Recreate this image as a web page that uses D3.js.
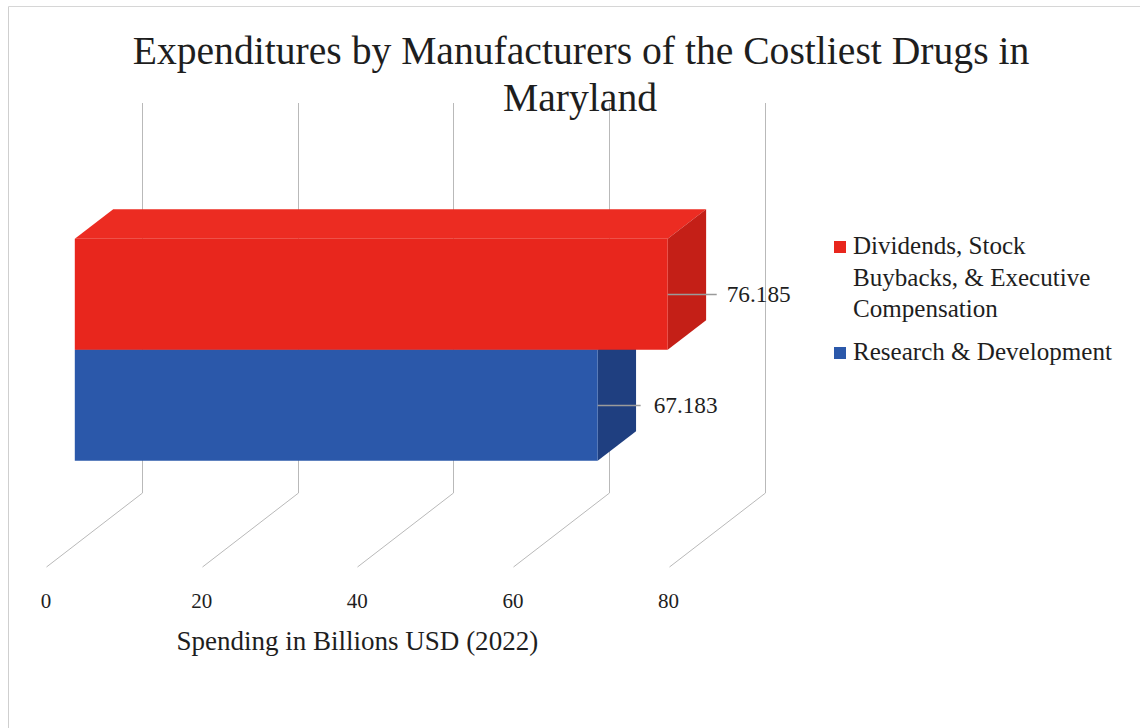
<!DOCTYPE html>
<html>
<head>
<meta charset="utf-8">
<script src="https://cdn.jsdelivr.net/npm/d3@7/dist/d3.min.js"></script>
<style>
  html, body { margin: 0; padding: 0; background: #fff; }
  svg text { font-family: "Liberation Serif", "DejaVu Serif", serif; fill: #1e1e1e; }
</style>
</head>
<body>
<svg id="chart" width="1140" height="728"></svg>
<script>
// ---- data ----
const categories = ["Maryland"];
const seriesNames = ["Dividends, Stock Buybacks, & Executive Compensation", "Research & Development"];
const seriesValues = [76.185, 67.183];
const legendLines = [["Dividends, Stock", "Buybacks, & Executive", "Compensation"], ["Research & Development"]];
const tickValues = [0, 20, 40, 60, 80];
const titleLines = ["Expenditures by Manufacturers of the Costliest Drugs in", "Maryland"];
const axisTitle = "Spending in Billions USD (2022)";

// ---- styles ----
const faceColors = [
  { front: "#e8261d", top: "#ec2c22", side: "#c41f17" },
  { front: "#2b58aa", top: "#3060b0", side: "#1f3f80" }
];
const legendColors = ["#e8261d", "#2b58aa"];
const gridColor = "#b9b9b9";

const svg = d3.select("#chart");

// fit font size so text spans target width
function fit(sel, target) {
  sel.style("font-size", "100px");
  const w = sel.node().getComputedTextLength();
  sel.style("font-size", (100 * target / w) + "px");
  return 100 * target / w;
}

// page border (scanned look)
svg.append("line").attr("x1", 8.5).attr("x2", 8.5).attr("y1", 6.5).attr("y2", 728).attr("stroke", "#cfcfcf");
svg.append("line").attr("x1", 8.5).attr("x2", 1140).attr("y1", 6.5).attr("y2", 6.5).attr("stroke", "#d6d6d6");

// ---- 3D geometry ----
const wallTop = 103, wallBottom = 493;
const depthDX = -96, depthDY = 74;          // offset from back wall to front of floor
const barDepth = [0.30, 0.70];              // bar occupies this depth fraction

const x = d3.scaleLinear().domain([0, 80]).range([142, 764.6]);
const yCat = d3.scaleBand().domain(categories).range([wallTop, wallBottom]).paddingInner(0).paddingOuter(0.378);
const ySer = d3.scaleBand().domain(seriesNames).range([0, yCat.bandwidth()]);

const P = (xb, yb, d) => [xb + depthDX * d, yb + depthDY * d];

// back wall gridlines + floor lines
const grid = svg.append("g");
tickValues.forEach(v => {
  const xb = Math.round(x(v)) + 0.5;
  grid.append("line").attr("x1", xb).attr("x2", xb).attr("y1", wallTop).attr("y2", wallBottom)
    .attr("stroke", gridColor).attr("stroke-width", 1);
  const f = P(xb, wallBottom, 1);
  grid.append("line").attr("x1", xb).attr("y1", wallBottom).attr("x2", f[0]).attr("y2", f[1])
    .attr("stroke", gridColor).attr("stroke-width", 1);
});

// tick labels on the front edge
tickValues.forEach(v => {
  const f = P(x(v), wallBottom, 1);
  svg.append("text").attr("x", f[0]).attr("y", 608).attr("text-anchor", "middle")
    .style("font-size", "21px").text(d3.format("d")(v));
});

// axis title
const atx = P(x(40), wallBottom, 1)[0];
const at = svg.append("text").attr("x", atx).attr("y", 650).attr("text-anchor", "middle").text(axisTitle);
fit(at, 362);

// ---- bars (draw bottom series first so upper bar overlaps) ----
const bars = seriesNames.map((s, i) => ({ name: s, value: seriesValues[i], i }));
const order = bars.slice().reverse();
const poly = pts => "M" + pts.map(p => p.join(",")).join("L") + "Z";
const d0 = barDepth[0], d1 = barDepth[1];

order.forEach(b => {
  const y0 = yCat(categories[0]) + ySer(b.name);
  const y1 = y0 + ySer.bandwidth();
  const xa = x(0), xv = x(b.value);
  const c = faceColors[b.i];
  const g = svg.append("g");
  // top face
  g.append("path").attr("d", poly([P(xa, y0, d1), P(xa, y0, d0), P(xv, y0, d0), P(xv, y0, d1)])).attr("fill", c.top);
  // right side face
  g.append("path").attr("d", poly([P(xv, y0, d1), P(xv, y0, d0), P(xv, y1, d0), P(xv, y1, d1)])).attr("fill", c.side);
  // front face
  g.append("path").attr("d", poly([P(xa, y0, d1), P(xv, y0, d1), P(xv, y1, d1), P(xa, y1, d1)])).attr("fill", c.front);
});

// data labels with leader lines
bars.forEach(b => {
  const y0 = yCat(categories[0]) + ySer(b.name);
  const yc = y0 + ySer.bandwidth() / 2;
  const p = P(x(b.value), yc, d1);
  const len = b.i === 0 ? 49 : 43;
  svg.append("line").attr("x1", p[0]).attr("x2", p[0] + len).attr("y1", Math.round(p[1]) + 0.5).attr("y2", Math.round(p[1]) + 0.5)
    .attr("stroke", "#9a9a9a").attr("stroke-width", 1.5);
  const t = svg.append("text").attr("x", p[0] + len + (b.i === 0 ? 10 : 13)).attr("y", p[1] + 8).text(d3.format(".3f")(b.value));
  fit(t, 64);
});

// ---- title ----
const t1 = svg.append("text").attr("x", 581).attr("y", 64).attr("text-anchor", "middle").text(titleLines[0]);
const ts = fit(t1, 897);
svg.append("text").attr("x", 580).attr("y", 111).attr("text-anchor", "middle").style("font-size", ts + "px").text(titleLines[1]);

// ---- legend ----
const lg = svg.append("g");
const l0 = lg.append("text").attr("x", 853).attr("y", 360).text(legendLines[1][0]);
const ls = fit(l0, 259);
const lineBase = [[254, 286, 317], [360]];
legendLines.forEach((lines, i) => {
  lg.append("rect").attr("x", 834).attr("y", lineBase[i][0] - 13).attr("width", 12).attr("height", 12).attr("fill", legendColors[i]);
  if (i === 1) return;
  lines.forEach((ln, j) => {
    lg.append("text").attr("x", 853).attr("y", lineBase[i][j]).style("font-size", ls + "px").text(ln);
  });
});
</script>
</body>
</html>
